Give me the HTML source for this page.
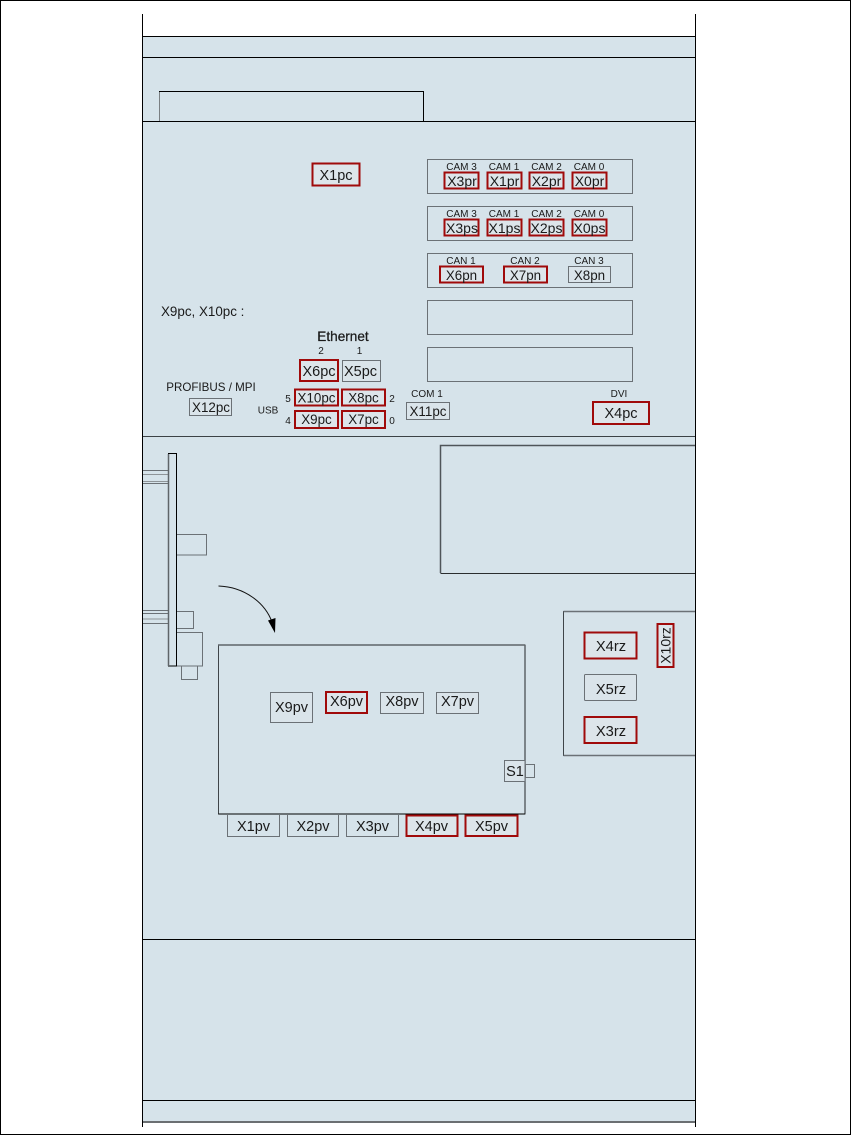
<!DOCTYPE html>
<html><head><meta charset="utf-8"><style>
html,body{margin:0;padding:0;background:#fff}
svg{display:block}
text{font-family:"Liberation Sans",sans-serif;fill:#1a1a1a;text-anchor:middle}
.g{fill:none;stroke:#6b7176;stroke-width:1}
.k{fill:none;stroke:#000;stroke-width:1}
.r{fill:#dde5ea;stroke:#a00a0a;stroke-width:2}
.b{fill:#dae4ea;stroke:#6b7176;stroke-width:1}
</style></head><body>
<svg width="851" height="1135" viewBox="0 0 851 1135" xmlns="http://www.w3.org/2000/svg">
<rect width="851" height="1135" fill="#fff"/>
<rect x="0.5" y="0.5" width="850" height="1134" fill="none" stroke="#000"/>
<rect x="143" y="37" width="552" height="1085" fill="#d6e3ea"/>
<path class="k" d="M142.5 14V1127M695.5 14V1127M143 36.5H695M143 57.5H695M143 121.5H695M143 939.5H695M143 1100.5H695"/>
<path d="M143 436.5H695" stroke="#3c4246" fill="none"/>
<path d="M143 1122H695" stroke="#6b6f72" stroke-width="2" fill="none"/>
<path class="k" d="M159.5 121V91.5H423.5V121"/>
<path d="M159.5 92V121" stroke="#7a7f82" fill="none"/>

<rect class="r" x="312.5" y="163.5" width="47" height="22"/>
<text x="336" y="180" font-size="14.5">X1pc</text>

<rect class="g" x="427.5" y="159.5" width="205" height="34"/>
<rect class="g" x="427.5" y="206.5" width="205" height="34"/>
<rect class="g" x="427.5" y="253.5" width="205" height="34"/>
<rect class="g" x="427.5" y="300.5" width="205" height="34"/>
<rect class="g" x="427.5" y="347.5" width="205" height="34"/>

<g font-size="10">
<text x="461.5" y="170">CAM 3</text><text x="504" y="170">CAM 1</text><text x="546.5" y="170">CAM 2</text><text x="589" y="170">CAM 0</text>
<text x="461.5" y="217">CAM 3</text><text x="504" y="217">CAM 1</text><text x="546.5" y="217">CAM 2</text><text x="589" y="217">CAM 0</text>
<text x="461" y="264">CAN 1</text><text x="525" y="264">CAN 2</text><text x="589" y="264">CAN 3</text>
</g>
<rect class="r" x="444.5" y="172.5" width="34" height="16"/><rect class="r" x="487.5" y="172.5" width="34" height="16"/><rect class="r" x="529.5" y="172.5" width="34" height="16"/><rect class="r" x="572.5" y="172.5" width="34" height="16"/>
<rect class="r" x="444.5" y="219.5" width="34" height="16"/><rect class="r" x="487.5" y="219.5" width="34" height="16"/><rect class="r" x="529.5" y="219.5" width="34" height="16"/><rect class="r" x="572.5" y="219.5" width="34" height="16"/>
<rect class="r" x="440" y="266.5" width="43" height="16"/><rect class="r" x="504" y="266.5" width="43" height="16"/>
<rect class="b" x="568.5" y="266.5" width="42" height="16"/>
<g font-size="14">
<text x="462" y="186">X3pr</text><text x="504.5" y="186">X1pr</text><text x="546.5" y="186">X2pr</text><text x="589.5" y="186">X0pr</text>
<text x="462" y="233">X3ps</text><text x="504.5" y="233">X1ps</text><text x="546.5" y="233">X2ps</text><text x="589.5" y="233">X0ps</text>
</g>
<g font-size="13.4">
<text x="461.5" y="280">X6pn</text><text x="525.5" y="280">X7pn</text><text x="589.5" y="280">X8pn</text>
</g>

<text x="161" y="316" font-size="13.4" style="text-anchor:start">X9pc, X10pc :</text>
<text x="343" y="341" font-size="13.6" stroke="#1a1a1a" stroke-width="0.25">Ethernet</text>
<g font-size="10"><text x="321" y="354">2</text><text x="359.5" y="354">1</text>
<text x="288" y="402">5</text><text x="288" y="424">4</text><text x="392" y="402">2</text><text x="392" y="424">0</text>
<text x="268" y="413.500">USB</text><text x="427" y="397">COM 1</text><text x="619" y="397">DVI</text></g>
<text x="211" y="391" font-size="11.6">PROFIBUS / MPI</text>

<rect class="r" x="300" y="360" width="38" height="21"/>
<rect class="b" x="342.500" y="360.500" width="38" height="21"/>
<rect class="r" x="295" y="389.500" width="43" height="16"/>
<rect class="r" x="342" y="389.500" width="43" height="16"/>
<rect class="r" x="295" y="411" width="43" height="17"/>
<rect class="r" x="342" y="411" width="43" height="17"/>
<rect class="b" x="189.500" y="398.500" width="42" height="17"/>
<rect class="b" x="406.500" y="402.500" width="43" height="17"/>
<rect class="r" x="593" y="402" width="56" height="22"/>
<g font-size="14.5"><text x="319" y="376">X6pc</text><text x="360.500" y="376">X5pc</text><text x="621" y="418">X4pc</text></g>
<g font-size="13.4"><text x="316.500" y="402.500">X10pc</text><text x="363.500" y="402.500">X8pc</text><text x="316.500" y="424">X9pc</text><text x="363.500" y="424">X7pc</text><text x="211" y="412">X12pc</text><text x="428" y="416">X11pc</text></g>

<path d="M695 445.500H440.500V573" fill="none" stroke="#4f5559" stroke-width="1.500"/>
<path d="M440.500 573.500H695" class="k" stroke-opacity=".8"/>

<path class="g" d="M143 470.500H168M143 483.500H168M143 610.500H168M143 613.500H168M143 623.500H168"/>
<path d="M143 474.500H168M143 481.500H168M143 619H168" stroke="#8e9498" fill="none"/>
<rect x="168.500" y="453.500" width="8" height="212.500" fill="#d6e3ea" stroke="#000"/>
<path d="M168.500 454V666" stroke="#5f6569" stroke-width="1.500" fill="none"/>
<path class="g" d="M177 534.500H206.500V555H177"/>
<path class="g" d="M177 611.500H193.500V628.500H177"/>
<path class="g" d="M177 632.500H202.500V666H177"/>
<path class="g" d="M181.500 666V679.500H197.500V666"/>

<path d="M218.500 586C245 587 265 603 272 622" fill="none" stroke="#111" stroke-width="1"/>
<path d="M268 620.500L275.500 618L275 633Z" fill="#000"/>

<rect x="218.500" y="645" width="306.500" height="169" fill="none" stroke="#3f4549"/>
<path d="M218 645H525" stroke="#5f6569" stroke-width="1.500" fill="none"/>
<path d="M525 645V814" stroke="#5f6569" stroke-width="1.500" fill="none"/>
<path d="M218.500 814H525" stroke="#000" fill="none"/>

<rect class="b" x="270.500" y="692.500" width="42" height="30"/>
<rect class="r" x="326" y="692" width="41" height="21"/>
<rect class="b" x="380.500" y="692.500" width="43" height="21"/>
<rect class="b" x="436.500" y="692.500" width="42" height="21"/>
<rect class="b" x="504.500" y="760.500" width="20.500" height="21"/>
<rect class="g" x="525.500" y="764.500" width="9" height="13"/>

<path class="g" d="M227.500 815V836.500H279.500V815"/>
<path class="g" d="M287.500 815V836.500H338.500V815"/>
<path class="g" d="M346.500 815V836.500H398.500V815"/>
<rect class="r" x="406.500" y="815.500" width="51" height="20.500"/>
<rect class="r" x="465.500" y="815.500" width="52" height="20.500"/>
<g font-size="14.500">
<text x="291.500" y="712">X9pv</text><text x="346.500" y="706">X6pv</text><text x="402" y="706">X8pv</text><text x="457.500" y="706">X7pv</text>
<text x="253.500" y="831">X1pv</text><text x="313" y="831">X2pv</text><text x="372.500" y="831">X3pv</text><text x="431.500" y="831">X4pv</text><text x="491.500" y="831">X5pv</text>
<text x="515" y="776">S1</text>
</g>

<path d="M563.500 756V611.500H695" fill="none" stroke="#3f4549"/>
<path d="M563.500 611.500H695M563.500 755.500H695" fill="none" stroke="#6b7176" stroke-width="1.500"/>
<rect class="r" x="584.500" y="632.500" width="52" height="26"/>
<rect x="584.500" y="674.500" width="52" height="26" rx="1" class="b"/>
<rect class="r" x="584.500" y="717" width="52" height="26"/>
<rect class="r" x="657.500" y="624" width="16" height="43"/>
<g font-size="14.700"><text x="611" y="651">X4rz</text><text x="611" y="694">X5rz</text><text x="611" y="736">X3rz</text>
<text transform="translate(670.500 645.500) rotate(-90)" font-size="14">X10rz</text></g>
</svg>
</body></html>
